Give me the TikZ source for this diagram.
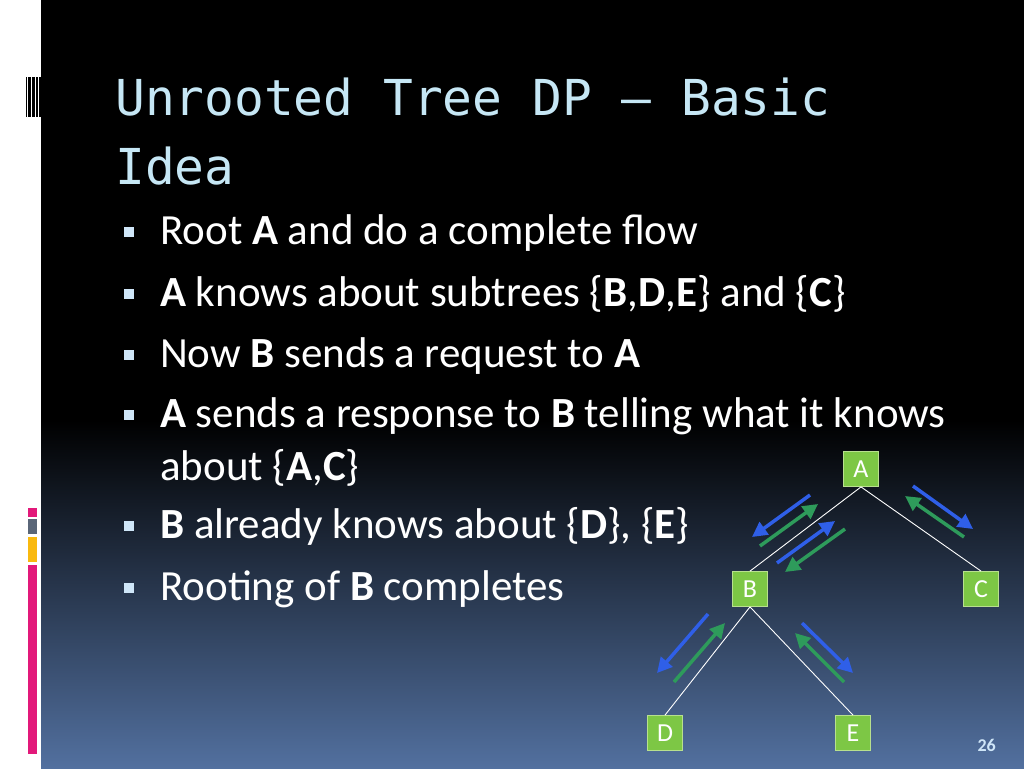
\documentclass[tikz,border=0pt]{standalone}
\usepackage{fontspec}
\setmainfont{Carlito}
\newfontfamily\titlefont{DejaVu Sans Mono}
\usetikzlibrary{arrows.meta}

\definecolor{slideblue}{HTML}{52709F}
\definecolor{titleblue}{HTML}{C6E7F5}
\definecolor{bulletblue}{HTML}{CFE6F8}
\definecolor{boxgreen}{HTML}{7DC745}
\definecolor{boxedge}{HTML}{B8E08E}
\definecolor{msgblue}{HTML}{2F5FE8}
\definecolor{msggreen}{HTML}{2E9B5B}
\definecolor{barpink}{HTML}{E2197A}
\definecolor{bargray}{HTML}{5A6678}
\definecolor{baryellow}{HTML}{F9B90F}

\begin{document}
\begin{tikzpicture}[
		x=1pt, y=-1pt,
		tree_node/.style={rectangle, draw=boxedge, fill=boxgreen, line width=0.8pt, minimum size=35pt, inner sep=0pt, text=white, font=\fontsize{26}{26}\selectfont},
		tree_edge/.style={draw=white, line width=0.9pt},
		msg/.style={line width=3.5pt, -{Triangle[length=15pt, width=15pt]}},
		request/.style={msg, draw=msgblue, fill=msgblue},
		response/.style={msg, draw=msggreen, fill=msggreen},
		bullet_sq/.style={rectangle, fill=bulletblue, minimum size=10pt, inner sep=0pt},
		body/.style={anchor=base west, inner sep=0pt, text=white, align=left, font=\fontsize{43}{53}\selectfont}
	]
  \useasboundingbox (0,0) rectangle (1024,768);
  % background
  \fill[black] (41,0) rectangle (1024,768);
  \shade[top color=black, bottom color=slideblue] (41,420) rectangle (1024,768);
  \fill[white] (0,0) rectangle (41,768);
  \foreach \x/\w in {25.5/1.5, 27.6/1, 29.3/1.4, 31.6/2, 34.2/1, 36.2/1.5, 38.6/2}
    \fill[black] (\x,77) rectangle ++(\w,40);
  \fill[barpink] (28,508) rectangle (37,517);
  \fill[bargray] (28,519) rectangle (37,534);
  \fill[baryellow] (28,537) rectangle (37,562);
  \fill[barpink] (28,565) rectangle (37,754);

  % title (base anchor sits on the last line)
  \node (title) [anchor=base west, inner sep=0pt, text=titleblue, align=left, font=\titlefont\fontsize{49.5}{69}\selectfont] at (115,184) {Unrooted Tree DP – Basic\\Idea};

  % bullets
  \foreach \y in {244, 306, 367, 427, 538, 600}
    \node (sq_\y) [bullet_sq] at (129,\y-12) {};
  \node (flow) [body] at (160,244) {Root \textbf{A} and do a complete flow};
  \node (subtrees) [body] at (160,306) {\textbf{A} knows about subtrees \{\textbf{B},\textbf{D},\textbf{E}\} and \{\textbf{C}\}};
  \node (request_txt) [body] at (160,367) {Now \textbf{B} sends a request to \textbf{A}};
  \node (response_txt) [body] at (160,480) {\textbf{A} sends a response to \textbf{B} telling what it knows\\about \{\textbf{A},\textbf{C}\}};
  \node (knows) [body] at (160,538) {\textbf{B} already knows about \{\textbf{D}\}, \{\textbf{E}\}};
  \node (done) [body] at (160,600) {Rooting of \textbf{B} completes};
  \node (page) [anchor=base east, inner sep=0pt, text=bulletblue, font=\fontsize{18}{18}\selectfont\bfseries] at (996,751) {26};

  % tree
  \node (A) [tree_node] at (861,469) {A};
  \node (B) [tree_node] at (750,589) {B};
  \node (C) [tree_node] at (981,589) {C};
  \node (D) [tree_node] at (665,733) {D};
  \node (E) [tree_node] at (853,733) {E};
  \draw[tree_edge] (A.south) -- (B.north);
  \draw[tree_edge] (A.south) -- (C.north);
  \draw[tree_edge] (B.south) -- (D.north);
  \draw[tree_edge] (B.south) -- (E.north);

  % messages
  \coordinate (ab_req_s) at (810,495);
  \coordinate (ab_req_e) at (752,537);
  \coordinate (ab_res_s) at (760,546);
  \coordinate (ab_res_e) at (818,504);
  \coordinate (ba_req_s) at (777,563);
  \coordinate (ba_req_e) at (835,521);
  \coordinate (ba_res_s) at (845,529);
  \coordinate (ba_res_e) at (785,572);
  \coordinate (ac_req_s) at (913,486);
  \coordinate (ac_req_e) at (973,529);
  \coordinate (ac_res_s) at (964,537);
  \coordinate (ac_res_e) at (905,496);
  \coordinate (bd_req_s) at (708,614);
  \coordinate (bd_req_e) at (657,673);
  \coordinate (bd_res_s) at (674,682);
  \coordinate (bd_res_e) at (725,623);
  \coordinate (be_req_s) at (802,623);
  \coordinate (be_req_e) at (853,673);
  \coordinate (be_res_s) at (844,682);
  \coordinate (be_res_e) at (795,633);
  \draw[request] (ab_req_s) -- (ab_req_e);
  \draw[response] (ab_res_s) -- (ab_res_e);
  \draw[request] (ba_req_s) -- (ba_req_e);
  \draw[response] (ba_res_s) -- (ba_res_e);
  \draw[request] (ac_req_s) -- (ac_req_e);
  \draw[response] (ac_res_s) -- (ac_res_e);
  \draw[request] (bd_req_s) -- (bd_req_e);
  \draw[response] (bd_res_s) -- (bd_res_e);
  \draw[request] (be_req_s) -- (be_req_e);
  \draw[response] (be_res_s) -- (be_res_e);
\end{tikzpicture}
\end{document}
